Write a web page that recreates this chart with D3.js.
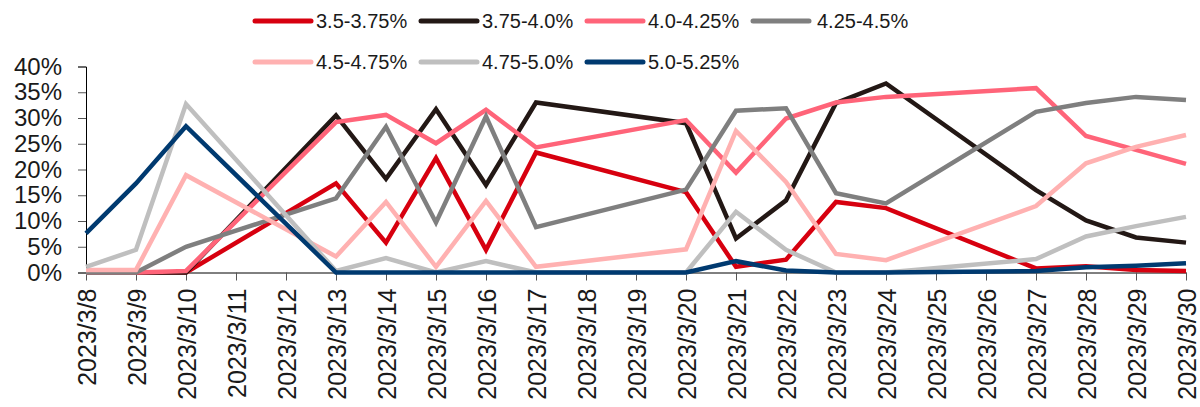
<!DOCTYPE html>
<html>
<head>
<meta charset="utf-8">
<script src="https://cdn.jsdelivr.net/npm/d3@7"></script>
<style>
  html, body { margin: 0; padding: 0; background: #fff; }
  svg { display: block; font-family: "Liberation Sans", Arial, sans-serif; }
</style>
</head>
<body>
<svg id="chart" width="1200" height="407"></svg>
<script>
// Calendar days shown on the x axis
const axisDates = ["2023/3/8","2023/3/9","2023/3/10","2023/3/11","2023/3/12","2023/3/13","2023/3/14",
  "2023/3/15","2023/3/16","2023/3/17","2023/3/18","2023/3/19","2023/3/20","2023/3/21","2023/3/22",
  "2023/3/23","2023/3/24","2023/3/25","2023/3/26","2023/3/27","2023/3/28","2023/3/29","2023/3/30"];

// Trading days with observations
const obsDates = ["2023/3/8","2023/3/9","2023/3/10","2023/3/13","2023/3/14","2023/3/15","2023/3/16",
  "2023/3/17","2023/3/20","2023/3/21","2023/3/22","2023/3/23","2023/3/24","2023/3/27","2023/3/28",
  "2023/3/29","2023/3/30"];

// Probability (%) of each target rate range
const seriesNames = ["3.5-3.75%","3.75-4.0%","4.0-4.25%","4.25-4.5%","4.5-4.75%","4.75-5.0%","5.0-5.25%"];
const r350_375 = [0,0,0,17.3,5.8,22.2,4.4,23.3,15.6,1.1,2.5,13.7,12.5,0.8,1.2,0.5,0.3];
const r375_400 = [0,0,0,30.5,18.2,31.7,17.0,33.0,29.0,6.6,14.0,32.9,36.7,16.0,10.1,6.8,5.8];
const r400_425 = [0,0,0.3,29.2,30.6,25.1,31.6,24.3,29.6,19.4,29.9,33.0,34.1,35.8,26.5,23.8,21.1];
const r425_450 = [0,0,5.0,14.4,28.3,9.7,30.3,8.8,16.1,31.4,31.9,15.4,13.4,31.2,32.9,34.1,33.5];
const r450_475 = [0.5,0.5,18.9,3.1,13.7,1.1,13.9,1.1,4.5,27.5,17.6,3.6,2.4,12.9,21.2,24.4,26.7];
const r475_500 = [1.1,4.4,32.7,0.3,2.8,0,2.2,0,0,11.8,4.4,0,0,2.6,7.0,9.0,10.8];
const r500_525 = [7.6,17.3,28.4,0,0,0,0,0,0,2.2,0.4,0,0,0.3,1.0,1.3,1.8];

const yTicks = [0,5,10,15,20,25,30,35,40];

const seriesValues = [r350_375, r375_400, r400_425, r425_450, r450_475, r475_500, r500_525];
const colors = ["#d7000f","#231815","#ff6479","#7f7f7f","#ffb1b1","#bfbfbf","#003a70"];

const svg = d3.select("#chart");
const x = d3.scalePoint().domain(axisDates).range([86, 1186]);
const y = d3.scaleLinear().domain([0, 40]).range([272.5, 66.5]);

// Y axis
const yAxis = svg.append("g")
  .attr("transform", "translate(86,0)")
  .call(d3.axisLeft(y).tickValues(yTicks).tickFormat(d => d + "%").tickSize(8).tickPadding(16));
yAxis.selectAll("text").attr("font-size", 24).attr("fill", "#1a1a1a")
  .attr("font-family", "Liberation Sans, Arial, sans-serif");
yAxis.select(".domain").attr("stroke", "#000");
yAxis.selectAll(".tick line").attr("stroke", "#555");

// X axis
const xAxis = svg.append("g")
  .attr("transform", "translate(0," + y(0) + ")")
  .call(d3.axisBottom(x).tickSizeInner(8).tickSizeOuter(0));
xAxis.select(".domain").attr("stroke", "#000");
xAxis.selectAll(".tick line").attr("stroke", "#555");
xAxis.selectAll("text")
  .attr("font-size", 25).attr("fill", "#1a1a1a")
  .attr("font-family", "Liberation Sans, Arial, sans-serif")
  .attr("text-anchor", "end")
  .attr("transform", "rotate(-90)")
  .attr("x", -16).attr("y", 0).attr("dy", "0.36em");

// Series lines
const line = d3.line()
  .x((d, i) => x(obsDates[i]))
  .y(d => y(d));

seriesValues.forEach((vals, k) => {
  svg.append("path")
    .datum(vals)
    .attr("fill", "none")
    .attr("stroke", colors[k])
    .attr("stroke-width", 4.5)
    .attr("stroke-linejoin", "miter")
    .attr("d", line);
});

// Legend: two rows
const legend = svg.append("g");
seriesNames.forEach((name, k) => {
  const row = k < 4 ? 0 : 1;
  const col = k < 4 ? k : k - 4;
  const lx = 255 + col * 166;
  const ly = row === 0 ? 21 : 62;
  const g = legend.append("g");
  g.append("line")
    .attr("x1", lx).attr("x2", lx + 56)
    .attr("y1", ly).attr("y2", ly)
    .attr("stroke", colors[k]).attr("stroke-width", 5).attr("stroke-linecap", "round");
  g.append("text")
    .attr("x", lx + (col === 3 ? 64 : 61))
    .attr("y", ly)
    .attr("dy", "0.35em")
    .attr("font-size", 20)
    .attr("fill", "#1a1a1a")
    .text(name);
});
</script>
</body>
</html>
